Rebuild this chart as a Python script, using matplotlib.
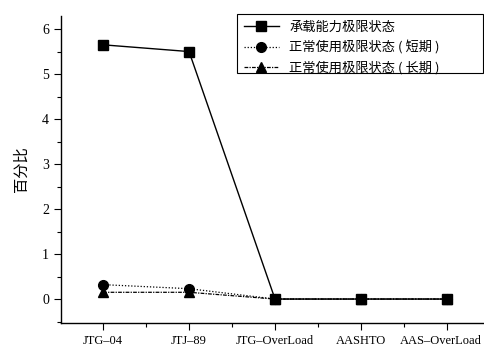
import numpy as np
import matplotlib.pyplot as plt
import matplotlib.transforms as mtransforms
from matplotlib.patches import Rectangle
from matplotlib.ticker import MultipleLocator

plt.rcParams['font.family'] = ['Liberation Serif', 'Noto Sans CJK SC']

categories = ["JTG–04", "JTJ–89", "JTG–OverLoad", "AASHTO", "AAS–OverLoad"]
ultimate = [5.65, 5.50, 0.0, 0.0, 0.0]
service_short = [0.32, 0.23, 0.0, 0.0, 0.0]
service_long = [0.15, 0.15, 0.0, 0.0, 0.0]

x = np.arange(len(categories))
W, H = 484, 356

fig = plt.figure(figsize=(W / 100, H / 100), dpi=100)
ax = fig.add_axes([0.126, 0.093, 0.872, 0.862])

ax.plot(x, ultimate, color="black", linewidth=1.0, marker="s",
        markersize=7, label="承载能力极限状态")
ax.plot(x, service_short, color="black", linewidth=0.9, linestyle=(0, (1, 1.5)),
        marker="o", markersize=7, label="正常使用极限状态 ( 短期 )")
ax.plot(x, service_long, color="black", linewidth=0.9, linestyle=(0, (3, 1, 1, 1)),
        marker="^", markersize=7, label="正常使用极限状态 ( 长期 )")

ax.set_xlim(-0.49, 4.42)
ax.set_ylim(-0.53, 6.29)
ax.set_xticks(x)
ax.set_xticklabels(categories)
ax.xaxis.set_minor_locator(MultipleLocator(0.5))
ax.yaxis.set_major_locator(MultipleLocator(1))
ax.yaxis.set_minor_locator(MultipleLocator(0.5))
ax.tick_params(axis="both", which="major", direction="out", length=5, width=0.8,
               labelsize=10)
ax.tick_params(axis="x", which="major", labelsize=9)
ax.tick_params(axis="both", which="minor", direction="out", length=3, width=0.8)

# keep the last category label inside the figure edge
last = ax.get_xticklabels()[-1]
last.set_transform(last.get_transform()
                   + mtransforms.ScaledTranslation(-6 / 100, 0, fig.dpi_scale_trans))

ax.spines["top"].set_visible(False)
ax.spines["right"].set_visible(False)
ax.spines["left"].set_linewidth(1.0)
ax.spines["bottom"].set_linewidth(1.0)

ax.set_ylabel("百分比", fontsize=11, family=["Noto Sans CJK SC"], labelpad=9)

# legend box drawn separately so it can be wider than its contents
box_x0, box_y0, box_x1, box_y1 = 237, 14, 483, 73
fig.patches.append(Rectangle((box_x0 / W, 1 - box_y1 / H),
                             (box_x1 - box_x0) / W, (box_y1 - box_y0) / H,
                             transform=fig.transFigure, fill=False,
                             edgecolor="black", linewidth=0.8))
ax.legend(loc="upper left", bbox_to_anchor=(box_x0 / W, 1 - box_y0 / H),
          bbox_transform=fig.transFigure, borderaxespad=0,
          prop={"family": ["Noto Sans CJK SC"], "size": 9.5},
          frameon=False, handlelength=2.7, handletextpad=0.75,
          borderpad=0.5, labelspacing=0.5)

fig.savefig("out.png", dpi=100)
